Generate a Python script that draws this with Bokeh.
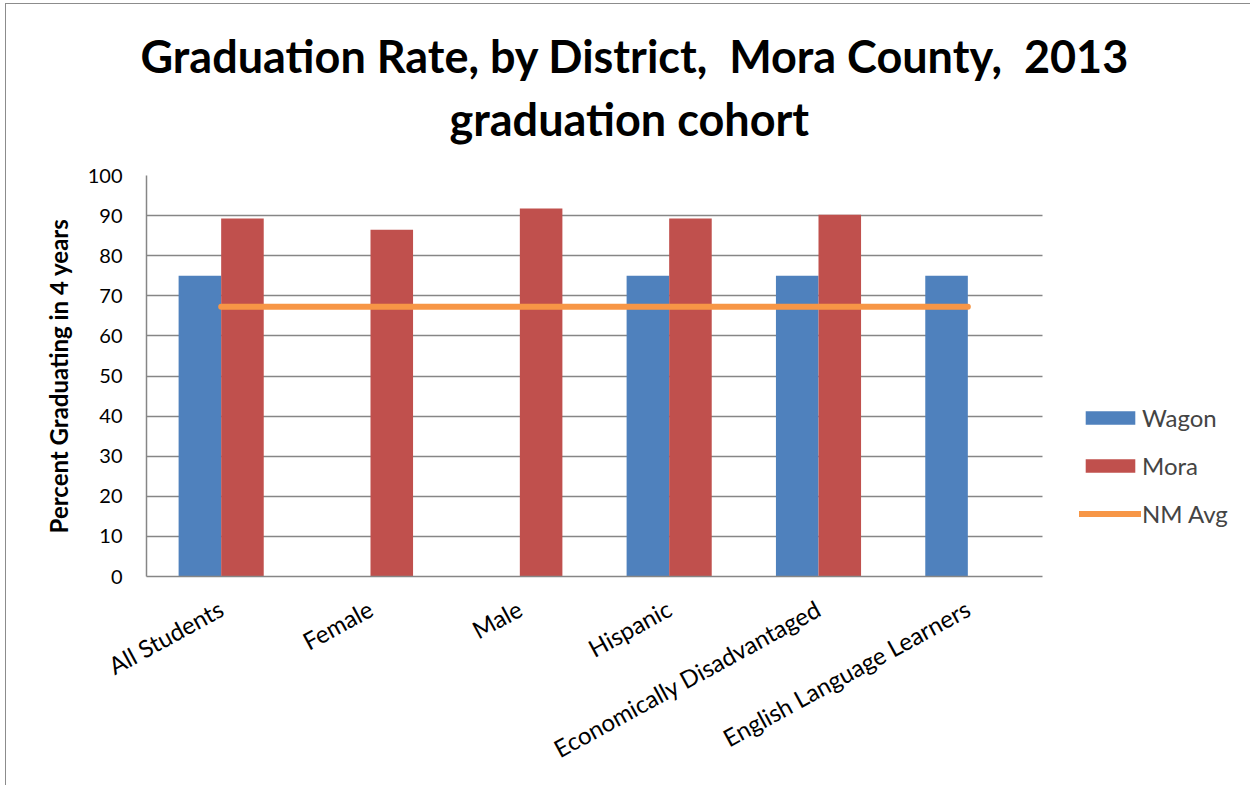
import numpy as np

from bokeh.plotting import figure
from bokeh.models import FixedTicker, Legend, LegendItem, Range1d, Title
from bokeh.embed import file_html
from bokeh.resources import INLINE

# data
groups = ["All Students", "Female", "Male", "Hispanic",
          "Economically Disadvantaged", "English Language Learners"]
wagon = [75, None, None, 75, 75, 75]
mora = [89.3, 86.5, 91.8, 89.3, 90.2, None]
nm_avg = [67.3, 67.3, 67.3, 67.3, 67.3, 67.3]

title_lines = ["Graduation Rate, by District,\u00a0 Mora County,\u00a0 2013",
               "graduation cohort"]

FONT = "Lato"
GRID = "#868686"

n = len(groups)
centers = np.arange(n) + 0.5
bar_w = 0.285

# the frame runs on past the last category so the legend has room at its right;
# the axis and the grid stop at the last category (896 px of 1093 px)
W, H = 1245, 782
left, right, top, bottom = 140, 12, 171, 210
x_end = n * (W - left - right) / 896

p = figure(width=W, height=H,
           x_range=Range1d(0, x_end), y_range=Range1d(0, 100),
           output_backend="svg", toolbar_location=None,
           min_border_left=left, min_border_right=right,
           min_border_top=top, min_border_bottom=bottom)

p.title.text = title_lines[0]
sub = Title(text=title_lines[1])
for t in (p.title, sub):
    t.align = "left"
    t.text_font = FONT
    t.text_font_size = "45px"
    t.text_font_style = "bold"
    t.text_color = "black"
p.title.offset = -6
sub.offset = 303
p.title.standoff = -46
sub.standoff = 60
p.add_layout(sub, "above")

wx = [c - bar_w / 2 for c, v in zip(centers, wagon) if v is not None]
wy = [v for v in wagon if v is not None]
mx = [c + bar_w / 2 for c, v in zip(centers, mora) if v is not None]
my = [v for v in mora if v is not None]

r_wagon = p.vbar(x=wx, top=wy, width=bar_w, fill_color="#4F81BD", line_color=None)
r_mora = p.vbar(x=mx, top=my, width=bar_w, fill_color="#C0504D", line_color=None)
r_avg = p.line(centers, nm_avg, line_width=6, line_color="#F79646", line_cap="round")

# axes
p.outline_line_color = None
p.xgrid.visible = False
p.ygrid.grid_line_color = GRID
p.ygrid.grid_line_width = 1.5
p.ygrid.cross_bounds = (0, n)

p.yaxis.ticker = FixedTicker(ticks=list(range(0, 101, 10)))
p.yaxis.axis_label = "Percent Graduating in 4 years"
p.yaxis.axis_label_text_font = FONT
p.yaxis.axis_label_text_font_style = "bold"
p.yaxis.axis_label_text_font_size = "24px"
p.yaxis.axis_label_text_color = "black"
p.yaxis.axis_label_standoff = 12
p.yaxis.major_tick_in = 0
p.yaxis.major_tick_out = 8
p.yaxis.major_label_standoff = 16
p.yaxis.major_label_text_font_size = "20px"

p.xaxis.bounds = (0, n)
p.xaxis.ticker = FixedTicker(ticks=list(centers), minor_ticks=list(range(n + 1)))
p.xaxis.major_label_overrides = {float(c): g for c, g in zip(centers, groups)}
p.xaxis.major_label_orientation = 0.5
p.xaxis.major_label_standoff = 22
p.xaxis.major_label_text_font_size = "24px"
p.xaxis.minor_tick_in = 0
p.xaxis.minor_tick_out = 8

for ax in (p.xaxis, p.yaxis):
    ax.axis_line_color = GRID
    ax.axis_line_width = 1.5
    ax.major_tick_line_color = GRID if ax is p.yaxis else None
    ax.major_tick_line_width = 1.5
    ax.minor_tick_line_color = GRID if ax is p.xaxis else None
    ax.minor_tick_line_width = 1.5
    ax.major_label_text_font = FONT
    ax.major_label_text_color = "black"

legend = Legend(items=[LegendItem(label="Wagon", renderers=[r_wagon]),
                       LegendItem(label="Mora", renderers=[r_mora]),
                       LegendItem(label="NM Avg", renderers=[r_avg])],
                location=(933, 48))
legend.glyph_width = 62
legend.glyph_height = 17
legend.label_height = 16
legend.spacing = 19
legend.padding = 0
legend.margin = 0
legend.label_standoff = 1
legend.label_text_font = FONT
legend.label_text_font_size = "24px"
legend.border_line_color = None
legend.background_fill_alpha = 0
p.add_layout(legend, "center")

p.styles = {"margin-left": "5px", "margin-top": "3px",
            "border-left": "1.5px solid #8c8c8c", "border-top": "1.5px solid #8c8c8c"}

open("out.html", "w").write(file_html(p, INLINE))
